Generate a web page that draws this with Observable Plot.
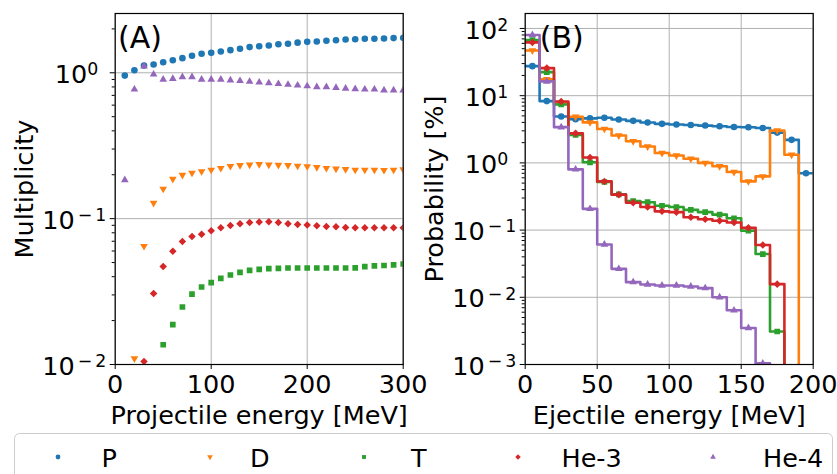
<!DOCTYPE html>
<html>
<head>
<meta charset="utf-8">
<script src="https://cdn.jsdelivr.net/npm/d3@7"></script>
<script src="https://cdn.jsdelivr.net/npm/@observablehq/plot@0.6"></script>
<style>
  html, body { margin: 0; padding: 0; background: #fff; }
  #wrap { position: relative; width: 837px; height: 474px; overflow: hidden; font-family: "DejaVu Sans", sans-serif; }
  .panel { position: absolute; top: 0; }
  #legend { position: absolute; left: 0; top: 0; }
</style>
</head>
<body>
<div id="wrap">
  <div id="panelA" class="panel" style="left:0px"></div>
  <div id="panelB" class="panel" style="left:410px"></div>
  <svg id="legend" width="837" height="474"></svg>
</div>
<script>
// ---------------- data ----------------
const species = ["P", "D", "T", "He-3", "He-4"];
const colors = ["#1f77b4", "#ff7f0e", "#2ca02c", "#d62728", "#9467bd"];

// Panel A: multiplicity vs projectile energy
const projectileEnergy = [10, 20, 30, 40, 50, 60, 70, 80, 90, 100, 110, 120, 130, 140, 150,
  160, 170, 180, 190, 200, 210, 220, 230, 240, 250, 260, 270, 280, 290, 300];
const multP = [0.957, 1.04, 1.12, 1.14, 1.18, 1.22, 1.26, 1.31, 1.35, 1.37, 1.40, 1.43, 1.46, 1.50, 1.52,
  1.54, 1.57, 1.58, 1.61, 1.63, 1.64, 1.66, 1.67, 1.69, 1.70, 1.71, 1.71, 1.72, 1.73, 1.74];
const multD = [null, 0.011, 0.0648, 0.128, 0.16, 0.187, 0.199, 0.206, 0.211, 0.216, 0.222, 0.229, 0.232, 0.234, 0.236,
  0.234, 0.233, 0.232, 0.230, 0.228, 0.225, 0.222, 0.220, 0.218, 0.216, 0.216, 0.216, 0.215, 0.216, 0.217];
const multT = [null, null, null, null, 0.01366, 0.01875, 0.0248, 0.0304, 0.034, 0.0364, 0.0389, 0.0411, 0.0428, 0.0442, 0.0449,
  0.0454, 0.0456, 0.0459, 0.0459, 0.0459, 0.0459, 0.0459, 0.0459, 0.0459, 0.046, 0.0469, 0.0474, 0.0477, 0.0482, 0.0489];
const multHe3 = [null, null, 0.0105, 0.0307, 0.0469, 0.0598, 0.0697, 0.0755, 0.0783, 0.0826, 0.0867, 0.0899, 0.0923, 0.094, 0.0947,
  0.0953, 0.094, 0.0923, 0.0913, 0.0904, 0.0894, 0.0885, 0.088, 0.087, 0.0867, 0.0867, 0.0867, 0.0867, 0.0867, 0.0867];
const multHe4 = [0.184, 0.77, 1.11, 0.976, 0.90, 0.91, 0.936, 0.936, 0.90, 0.90, 0.90, 0.89, 0.88, 0.87, 0.86,
  0.85, 0.84, 0.83, 0.82, 0.81, 0.80, 0.80, 0.79, 0.78, 0.775, 0.77, 0.77, 0.76, 0.76, 0.76];

// Panel B: probability [%] per 10 MeV ejectile-energy bin
const ejectileBinEdges = [0, 10, 20, 30, 40, 50, 60, 70, 80, 90, 100, 110, 120, 130, 140, 150, 160, 170, 180, 190, 200];
const ejectileBinCenters = [5, 15, 25, 35, 45, 55, 65, 75, 85, 95, 105, 115, 125, 135, 145, 155, 165, 175, 185, 195];
const probP = [27.5, 8.3, 4.9, 4.45, 4.6, 4.7, 4.42, 4.22, 3.99, 3.81, 3.73, 3.66, 3.59, 3.5, 3.42, 3.39, 3.3, 2.82, 2.2, 0.70];
const probD = [47, 17.5, 7.8, 4.85, 4.0, 3.2, 2.56, 2.1, 1.75, 1.4, 1.29, 1.15, 1.0, 0.89, 0.73, 0.53, 0.63, 3.04, 1.32, 0];
const probT = [67, 22.4, 7.4, 2.6, 1.02, 0.52, 0.34, 0.27, 0.26, 0.23, 0.22, 0.2, 0.185, 0.17, 0.15, 0.098, 0.044, 0.0031, 0, 0];
const probHe3 = [62, 25.7, 8.2, 2.75, 1.2, 0.53, 0.337, 0.255, 0.22, 0.19, 0.185, 0.155, 0.145, 0.138, 0.13, 0.108, 0.06, 0.0157, 0, 0];
const probHe4 = [80, 16.3, 3.4, 0.8, 0.207, 0.061, 0.0265, 0.0168, 0.0155, 0.015, 0.015, 0.0145, 0.0137, 0.01, 0.0064, 0.0035, 0.00104, 0, 0, 0];

// axis ticks and labels
const xTicksA = [0, 100, 200, 300];
const yTicksA = [0.01, 0.1, 1];
const xTicksB = [0, 50, 100, 150, 200];
const yTicksB = [0.001, 0.01, 0.1, 1, 10, 100];
const xLabelA = "Projectile energy [MeV]";
const yLabelA = "Multiplicity";
const xLabelB = "Ejectile energy [MeV]";
const yLabelB = "Probability [%]";
const tagA = "(A)";
const tagB = "(B)";

// ---------------- styling ----------------
const FONT = "'DejaVu Sans', sans-serif";
const FS = 25.5;
const TAG_FS = 30;
const markerStyles = [
  {symbol: "circle", r: 3.3, rotate: 0},
  {symbol: "triangle", r: 2.85, rotate: 180},
  {symbol: "square", r: 3.2, rotate: 0},
  {symbol: "square", r: 3.0, rotate: 45},
  {symbol: "triangle", r: 2.85, rotate: 0}
];

function minorTicks(lo, hi) {
  const out = [];
  for (let e = Math.floor(Math.log10(lo)); e <= Math.ceil(Math.log10(hi)); e++) {
    for (let m = 2; m <= 9; m++) {
      const v = m * Math.pow(10, e);
      if (v >= lo && v <= hi) out.push(v);
    }
  }
  return out;
}
function supFmt(v) {
  const e = Math.round(Math.log10(v));
  return "10^" + (e < 0 ? "\u2212" + (-e) : String(e));
}
function applySuperscripts(svg) {
  d3.select(svg).selectAll("text").each(function () {
    const t = this.textContent;
    const m = /^10\^(.+)$/.exec(t);
    if (m && this.childElementCount === 0) {
      const s = d3.select(this);
      const neg = m[1].startsWith("\u2212");
      s.text(null);
      s.append("tspan").text("10");
      if (neg) {
        s.append("tspan").attr("dy", "-0.45em").attr("dx", 3).attr("font-size", "0.68em").text("\u2212");
        s.append("tspan").attr("dx", 3).attr("font-size", "0.68em").text(m[1].slice(1));
      } else {
        s.append("tspan").attr("dy", "-0.45em").attr("font-size", "0.68em").text(m[1]);
      }
      // matplotlib's mathtext leaves extra room after non-negative exponents
      const shift = neg ? 0 : -8;
      const tr = this.getAttribute("transform") || "";
      this.setAttribute("transform", `${tr} translate(${shift},2)`);
    }
  });
}

function panel({xDomain, yDomain, xTicks, yTicks, xLabel, yLabel, tag, tagDx, marks}) {
  const svg = Plot.plot({
    width: 420,
    height: 425,
    marginLeft: 114.7,
    marginRight: 17.3,
    marginTop: 13,
    marginBottom: 61,
    style: {fontFamily: FONT, fontSize: FS + "px", background: "transparent", color: "black", overflow: "visible"},
    x: {domain: xDomain},
    y: {type: "log", domain: yDomain},
    marks: [
      Plot.gridX(xTicks, {stroke: "#b0b0b0", strokeOpacity: 1, strokeWidth: 1}),
      Plot.gridY(yTicks, {stroke: "#b0b0b0", strokeOpacity: 1, strokeWidth: 1}),
      ...marks,
      Plot.frame({stroke: "black", strokeWidth: 1.2}),
      Plot.axisX(xTicks, {tickSize: 5, tickPadding: 5.5, tickFormat: d => String(d),
        label: xLabel, labelAnchor: "center", labelArrow: "none", labelOffset: 59.5}),
      Plot.axisY(yTicks, {tickSize: 5, tickPadding: 4, tickFormat: supFmt,
        label: yLabel, labelAnchor: "center", labelArrow: "none", labelOffset: 100}),
      Plot.axisY(minorTicks(yDomain[0], yDomain[1]), {tickSize: 3, tickFormat: () => "", label: null}),
      Plot.text([tag], {text: d => d, frameAnchor: "top-left", dx: tagDx, dy: 13.4,
        lineAnchor: "top", textAnchor: "start", fontSize: TAG_FS, fill: "black"})
    ]
  });
  applySuperscripts(svg);
  return svg;
}

// Panel A marks
const multSeries = [multP, multD, multT, multHe3, multHe4];
const marksA = multSeries.map((vals, k) => {
  const data = projectileEnergy.map((x, i) => ({x, y: vals[i]})).filter(d => d.y != null);
  const ms = markerStyles[k];
  return Plot.dot(data, {x: "x", y: "y", fill: colors[k], stroke: "none", symbol: ms.symbol, r: ms.r, rotate: ms.rotate, clip: true});
});

// Panel B marks (step lines + markers at bin centres)
const FLOOR = 1e-9; // empty bins fall off the bottom of the log axis
const probSeries = [probP, probD, probT, probHe3, probHe4];
const marksB = [];
probSeries.forEach((vals, k) => {
  const steps = ejectileBinEdges.map((x, i) => {
    const v = vals[Math.min(i, vals.length - 1)];
    return {x, y: v > 0 ? v : FLOOR};
  });
  const pts = ejectileBinCenters.map((x, i) => ({x, y: vals[i]})).filter(d => d.y > 0);
  const ms = markerStyles[k];
  marksB.push(Plot.line(steps, {x: "x", y: "y", curve: "step-after", stroke: colors[k], strokeWidth: 2.6, clip: true}));
  marksB.push(Plot.dot(pts, {x: "x", y: "y", fill: colors[k], stroke: "none", symbol: ms.symbol, r: ms.r, rotate: ms.rotate, clip: true}));
});

document.getElementById("panelA").appendChild(panel({
  xDomain: [0, 300], yDomain: [0.01, 2.55], xTicks: xTicksA, yTicks: yTicksA,
  xLabel: xLabelA, yLabel: yLabelA, tag: tagA, tagDx: 2.9, marks: marksA
}));
document.getElementById("panelB").appendChild(panel({
  xDomain: [0, 200], yDomain: [0.001, 167], xTicks: xTicksB, yTicks: yTicksB,
  xLabel: xLabelB, yLabel: yLabelB, tag: tagB, tagDx: 14.6, marks: marksB
}));

// ---------------- legend ----------------
const lg = d3.select("#legend");
lg.append("rect").attr("x", 14.5).attr("y", 433.5).attr("width", 818).attr("height", 70)
  .attr("rx", 5).attr("fill", "white").attr("stroke", "#cccccc").attr("stroke-width", 1);
const legendMarkerX = [58, 210, 364, 518, 713];
const legendTextX = [101.5, 250, 411, 561.5, 763];
const legendMarkerR = [2.4, 2.1, 2.2, 2.2, 2.1];
species.forEach((name, k) => {
  const ms = markerStyles[k];
  const symType = ms.symbol === "circle" ? d3.symbolCircle : ms.symbol === "triangle" ? d3.symbolTriangle : d3.symbolSquare;
  const r = legendMarkerR[k];
  lg.append("path")
    .attr("d", d3.symbol(symType, Math.PI * r * r)())
    .attr("transform", `translate(${legendMarkerX[k]},457) rotate(${ms.rotate})`)
    .attr("fill", colors[k]);
  lg.append("text").attr("x", legendTextX[k]).attr("y", 466.5)
    .attr("font-family", FONT).attr("font-size", FS).attr("fill", "black").text(name);
});
</script>
</body>
</html>
